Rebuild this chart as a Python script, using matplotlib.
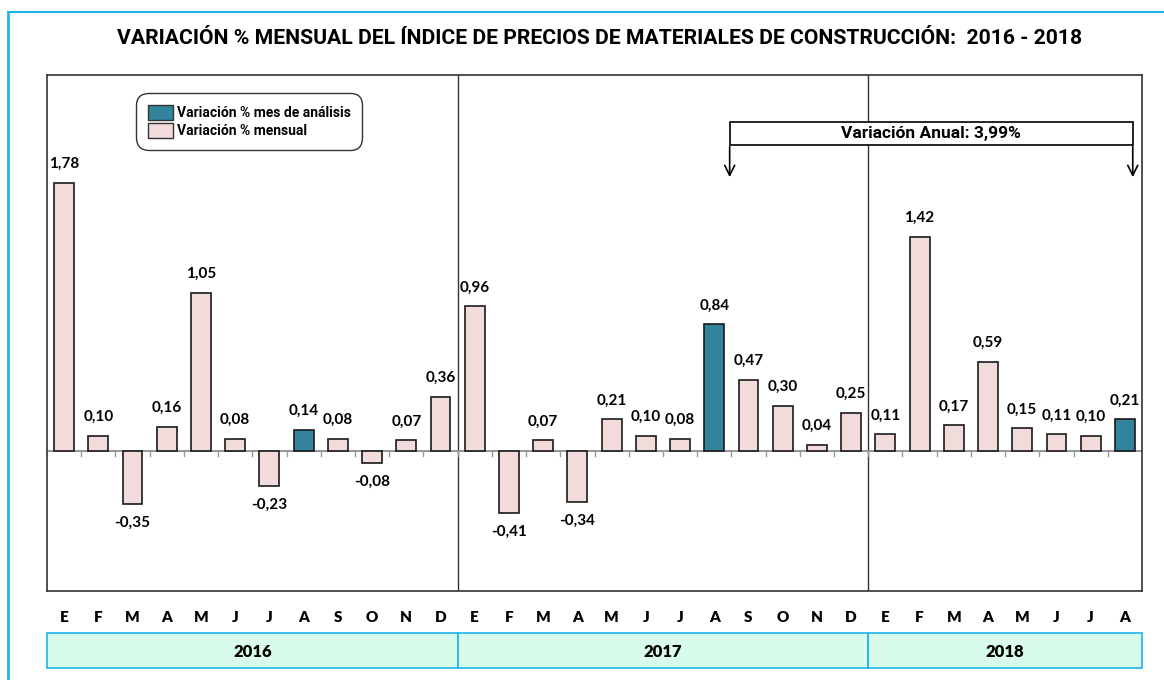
import matplotlib
matplotlib.use("Agg")
import matplotlib.pyplot as plt
from matplotlib.patches import Rectangle, Patch
from matplotlib.transforms import blended_transform_factory
from matplotlib.lines import Line2D

# ---------------------------------------------------------------- data
months = ["E", "F", "M", "A", "M", "J", "J", "A", "S", "O", "N", "D"]
years = ["2016", "2017", "2018"]
v2016 = [1.78, 0.10, -0.35, 0.16, 1.05, 0.08, -0.23, 0.14, 0.08, -0.08, 0.07, 0.36]
v2017 = [0.96, -0.41, 0.07, -0.34, 0.21, 0.10, 0.08, 0.84, 0.47, 0.30, 0.04, 0.25]
v2018 = [0.11, 1.42, 0.17, 0.59, 0.15, 0.11, 0.10, 0.21]
highlight_idx = 7   # mes de análisis: agosto
annual_label = "Variación Anual: 3,99%"
title = "VARIACIÓN % MENSUAL DEL ÍNDICE DE PRECIOS DE MATERIALES DE CONSTRUCCIÓN:  2016 - 2018"

values = v2016 + v2017 + v2018
labels = months * 2 + months[:len(v2018)]
year_sizes = [len(v2016), len(v2017), len(v2018)]

PINK = "#f2dcdb"
TEAL = "#31849b"
BLUE = "#1fb4ec"
NARROW = ["Liberation Sans Narrow", "Roboto", "DejaVu Sans"]
BOLDF = ["Lato", "DejaVu Sans"]

fig = plt.figure(figsize=(11.64, 6.8), dpi=100)
ax = fig.add_axes([47 / 1164, 1 - 591 / 680, 1095 / 1164, 516 / 680])

x = list(range(len(values)))
colors = [TEAL if i % 12 == highlight_idx else PINK for i in x]

ax.bar(x, values, width=0.58, color=colors, edgecolor="#1a1a1a", linewidth=1.2, zorder=3)
ax.set_xlim(-0.5, len(values) - 0.5)
ax.set_ylim(-0.93, 2.497)
ax.axhline(0, color="#8c8c8c", lw=1.3, zorder=2)
# small tick marks below the zero line
for b in range(1, len(values)):
    ax.plot([b - 0.5, b - 0.5], [0, -0.035], color="#9a9a9a", lw=1, zorder=2)

for sp in ax.spines.values():
    sp.set_color("#333333")
    sp.set_linewidth(1.2)
ax.set_xticks([])
ax.set_yticks([])

# year separators
pos = 0
for n in year_sizes[:-1]:
    pos += n
    ax.axvline(pos - 0.5, color="#333333", lw=1.0, zorder=1)

# value labels
for xi, v in zip(x, values):
    txt = f"{v:.2f}".replace(".", ",")
    if v >= 0:
        ax.text(xi, v + 0.08, txt, ha="center", va="bottom", fontsize=11,
                fontweight="bold", family=BOLDF)
    else:
        ax.text(xi, v - 0.08, txt, ha="center", va="top", fontsize=11,
                fontweight="bold", family=BOLDF)

# month labels and year boxes
bt = blended_transform_factory(ax.transData, fig.transFigure)
for xi, m in zip(x, labels):
    ax.text(xi, 1 - 618 / 680, m, transform=bt, ha="center", va="center",
            fontsize=11, fontweight="heavy", family=BOLDF)
start = 0
for yr, n in zip(years, year_sizes):
    ax.add_patch(Rectangle((start - 0.5, 1 - 668 / 680), n, 35 / 680, transform=bt,
                           facecolor="#d9fbea", edgecolor=BLUE, lw=1.2, clip_on=False))
    ax.text(start - 0.5 + n / 2, 1 - 652 / 680, yr, transform=bt, ha="center",
            va="center", fontsize=12, fontweight="heavy", family=BOLDF)
    start += n

# annual variation bracket
x0, x1 = 19.45, 31.23
ax.add_patch(Rectangle((x0, 2.033), x1 - x0, 0.153, facecolor="white",
                       edgecolor="black", lw=1.2, zorder=4))
ax.text((x0 + x1) / 2, 2.11, annual_label, ha="center", va="center", fontsize=12.5,
        fontweight="bold", family=NARROW, zorder=5)
for xa in (x0, x1):
    ax.annotate("", xy=(xa, 1.8), xytext=(xa, 2.04),
                arrowprops=dict(arrowstyle="->", color="black", lw=1.2,
                                mutation_scale=18), zorder=4)

# legend
handles = [Patch(facecolor=TEAL, edgecolor="#333333", label="Variación % mes de análisis"),
           Patch(facecolor=PINK, edgecolor="#333333", label="Variación % mensual")]
leg = ax.legend(handles=handles, loc="upper left", bbox_to_anchor=(0.083, 0.963),
                prop={"family": NARROW, "weight": "bold", "size": 10},
                frameon=True, fancybox=True, edgecolor="black", handlelength=1.8,
                handleheight=1.3, handletextpad=0.25, labelspacing=0.2,
                borderpad=0.55, borderaxespad=0.2)
leg.get_frame().set_linewidth(1.0)
leg.get_frame().set_boxstyle("round,pad=0.3,rounding_size=0.9")

# title, sized to span the same width as the reference
t = fig.text(600 / 1164, 1 - 38 / 680, title, ha="center", va="center",
             fontsize=15, fontweight="bold", family=NARROW)
r = fig.canvas.get_renderer()
w = t.get_window_extent(renderer=r).width
t.set_fontsize(15 * 965 / w)

# outer light-blue frame (left and top edges)
fig.add_artist(Line2D([8 / 1164, 8 / 1164], [0, 1 - 12 / 680], color=BLUE, lw=2,
                      transform=fig.transFigure))
fig.add_artist(Line2D([8 / 1164, 1], [1 - 12 / 680, 1 - 12 / 680], color=BLUE, lw=1.5,
                      transform=fig.transFigure))

fig.savefig("out.png", dpi=100)
